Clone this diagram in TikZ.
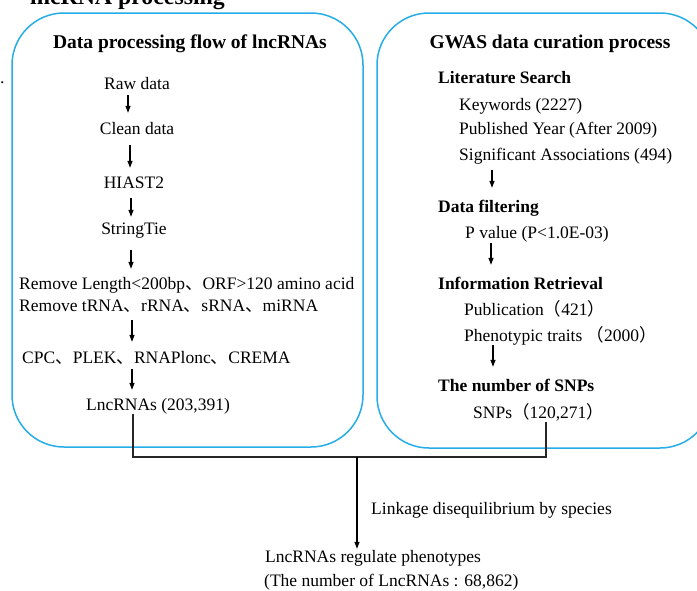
\documentclass[tikz,border=0pt]{standalone}
\usepackage{fontspec}
\setmainfont{Liberation Serif}
\newfontfamily\cjk{Noto Sans CJK SC}
\usetikzlibrary{arrows.meta}
\definecolor{boxblue}{RGB}{38,172,230}
\newcommand\regsz{\fontsize{17.5}{21}\selectfont}
\newcommand\ttlsz{\fontsize{19.5}{23}\selectfont\bfseries}
\newcommand\cjkcomma{{\cjk 、}}
\newcommand\fwlp{{\cjk （}}
\newcommand\fwrp{{\cjk ）}}
\begin{document}
\begin{tikzpicture}[x=1pt,y=-1pt,
  panel/.style={draw=boxblue, line width=1.5pt, rounded corners=52pt},
  txt/.style={inner sep=0pt, text height=12pt, text depth=4pt, font=\regsz},
  head/.style={txt, font=\regsz\bfseries},
  ttl/.style={inner sep=0pt, text height=13pt, text depth=4pt, font=\ttlsz},
  arr/.style={line width=1.2pt, -{Triangle[length=7pt,width=5pt]}},
  conn/.style={line width=1.4pt, draw=black!85}]
\useasboundingbox (0,0) rectangle (697,590);
% partially visible heading and margin mark
\node[anchor=base west, inner sep=0pt, font=\fontsize{23.8}{28}\selectfont\bfseries] (toptitle) at (30,4) {lncRNA processing};
\node[txt, anchor=base west] (mark) at (0,83) {.};
% panels
\draw[panel] (12,13) rectangle (363,447);
\draw[panel] (377,13) rectangle (712,448);
% titles
\node[ttl, anchor=base] (ltitle) at (190,48) {Data processing flow of lncRNAs};
\node[ttl, anchor=base] (rtitle) at (550,48) {GWAS data curation process};
% left column
\node[txt, anchor=base] (raw) at (137,89) {Raw data};
\node[txt, anchor=base] (clean) at (137,134) {Clean data};
\node[txt, anchor=base] (hisat) at (134,188) {HIAST2};
\node[txt, anchor=base] (tie) at (134,234) {StringTie};
\node[txt, anchor=base west] (rem1) at (19,289) {Remove Length<200bp\cjkcomma ORF>120 amino acid};
\node[txt, anchor=base west] (rem2) at (19,311) {Remove tRNA\cjkcomma rRNA\cjkcomma sRNA\cjkcomma miRNA};
\node[txt, anchor=base west] (cpc) at (22,363) {CPC\cjkcomma PLEK\cjkcomma RNAPlonc\cjkcomma CREMA};
\node[txt, anchor=base] (lnc) at (158,410) {LncRNAs (203,391)};
\coordinate (ax1) at (128,0);
\coordinate (ax2) at (130,0);
\coordinate (ax3) at (131,0);
\coordinate (ax4) at (132,0);
\draw[arr, shorten <=2pt, shorten >=9pt] (raw.south -| ax1) -- (clean.north -| ax1);
\draw[arr, shorten <=7pt, shorten >=8pt] (clean.south -| ax2) -- (hisat.north -| ax2);
\draw[arr, shorten <=6pt, shorten >=5pt] (hisat.south -| ax3) -- (tie.north -| ax3);
\draw[arr, shorten <=12pt, shorten >=8pt] (tie.south -| ax3) -- (rem1.north -| ax3);
\draw[arr, shorten <=5pt, shorten >=9pt] (rem2.south -| ax4) -- (cpc.north -| ax4);
\draw[arr, shorten <=2pt, shorten >=8pt] (cpc.south -| ax4) -- (lnc.north -| ax4);
% right column
\node[head, anchor=base west] (lit) at (438,83) {Literature Search};
\node[txt, anchor=base west] (kw) at (459,110) {Keywords (2227)};
\node[txt, anchor=base west] (py) at (459,134) {Published Year (After 2009)};
\node[txt, anchor=base west] (sig) at (459,160) {Significant Associations (494)};
\node[head, anchor=base west] (filt) at (438,212) {Data filtering};
\node[txt, anchor=base west] (pv) at (465,238) {P value (P<1.0E-03)};
\node[head, anchor=base west] (info) at (438,289) {Information Retrieval};
\node[txt, anchor=base west] (pub) at (464,315) {Publication\fwlp 421\fwrp};
\node[txt, anchor=base west] (phe) at (464,341) {Phenotypic traits \fwlp 2000\fwrp};
\node[head, anchor=base west] (num) at (438,391) {The number of SNPs};
\node[txt, anchor=base west] (snp) at (473,418) {SNPs\fwlp 120,271\fwrp};
\coordinate (bx1) at (492,0);
\coordinate (bx2) at (491,0);
\coordinate (bx3) at (493,0);
\draw[arr, shorten <=6pt, shorten >=12pt] (sig.south -| bx1) -- (filt.north -| bx1);
\draw[arr, shorten <=1pt, shorten >=12pt] (pv.south -| bx2) -- (info.north -| bx2);
\draw[arr, shorten >=12pt] (phe.south -| bx3) -- (num.north -| bx3);
% bottom
\node[txt, anchor=base west] (ld) at (371,514) {Linkage disequilibrium by species};
\node[txt, anchor=base west] (reg) at (265,562) {LncRNAs regulate phenotypes};
\node[txt, anchor=base west] (regn) at (264,586) {(The number of LncRNAs : 68,862)};
\coordinate (jl) at (133,457);
\coordinate (jr) at (546,457);
\coordinate (jm) at (357,457);
\draw[conn] (lnc.south -| jl) -- (jl) -- (jr) -- (snp.south -| jr);
\draw[arr, shorten >=1pt] (jm) -- (reg.north -| jm);
\end{tikzpicture}
\end{document}
